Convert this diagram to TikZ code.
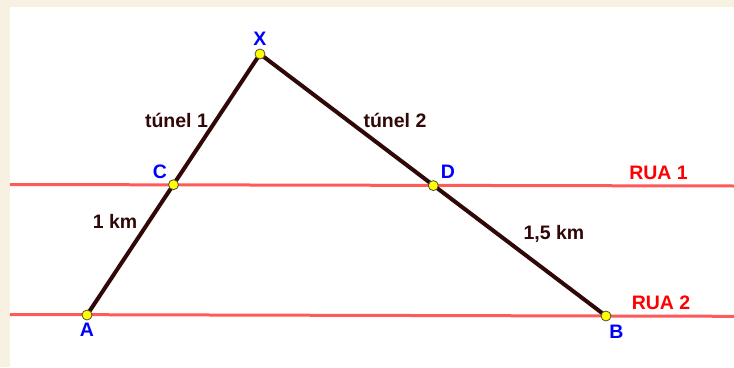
\documentclass[tikz,border=0pt]{standalone}
\usepackage{fontspec}
\setmainfont{Liberation Sans}
\definecolor{cream}{HTML}{F7F1E1}
\definecolor{seg}{HTML}{300808}
\definecolor{rua}{HTML}{FF5A5A}
\definecolor{ptfill}{HTML}{FFFF00}
\definecolor{lblue}{HTML}{0000FF}
\definecolor{lred}{HTML}{FF0000}
\tikzset{
  pt/.style={circle,draw=black!80!yellow,line width=0.8pt,fill=ptfill,minimum size=10pt,inner sep=0pt},
  txt/.style={font=\bfseries\fontsize{19.5}{21}\selectfont,inner sep=0pt,text height=13.5pt,text depth=0pt,anchor=center},
  ptlabel/.style={txt,text=lblue},
  rualabel/.style={txt,text=lred},
  seglabel/.style={txt,text=seg},
  segline/.style={draw=seg,line width=4pt},
  rualine/.style={draw=rua,line width=3pt}
}
\begin{document}
\begin{tikzpicture}[x=1pt,y=-1pt]
\useasboundingbox (0,0) rectangle (734,367);
\fill[cream] (0,0) rectangle (734,367);
\fill[white] (10,7) rectangle (734,367);
% road lines
\coordinate (r1l) at (10,184.5);
\coordinate (r1r) at (734,186);
\coordinate (r2l) at (10,314.5);
\coordinate (r2r) at (734,316.3);
\draw[rualine] (r1l) -- (r1r);
\draw[rualine] (r2l) -- (r2r);
% points
\coordinate (Xc) at (260,54);
\coordinate (Cc) at (173.5,184.7);
\coordinate (Ac) at (87,315);
\coordinate (Dc) at (433.3,185.6);
\coordinate (Bc) at (606,316);
\draw[segline] (Ac) -- (Xc) -- (Bc);
\node[pt] (X) at (Xc) {};
\node[pt] (C) at (Cc) {};
\node[pt] (A) at (Ac) {};
\node[pt] (D) at (Dc) {};
\node[pt] (B) at (Bc) {};
% labels
\node[ptlabel] (lX) at (260,39) {X};
\node[ptlabel] (lC) at (160,171.5) {C};
\node[ptlabel] (lD) at (448,172) {D};
\node[ptlabel] (lA) at (87,330) {A};
\node[ptlabel] (lB) at (616.5,331.5) {B};
\node[seglabel] (t1) at (176.5,121) {túnel 1};
\node[seglabel] (t2) at (395,120.5) {túnel 2};
\node[seglabel] (k1) at (115,222) {1 km};
\node[seglabel] (k2) at (554,232.5) {1,5 km};
\node[rualabel] (ru1) at (658.5,172.5) {RUA 1};
\node[rualabel] (ru2) at (661,303) {RUA 2};
\end{tikzpicture}
\end{document}
